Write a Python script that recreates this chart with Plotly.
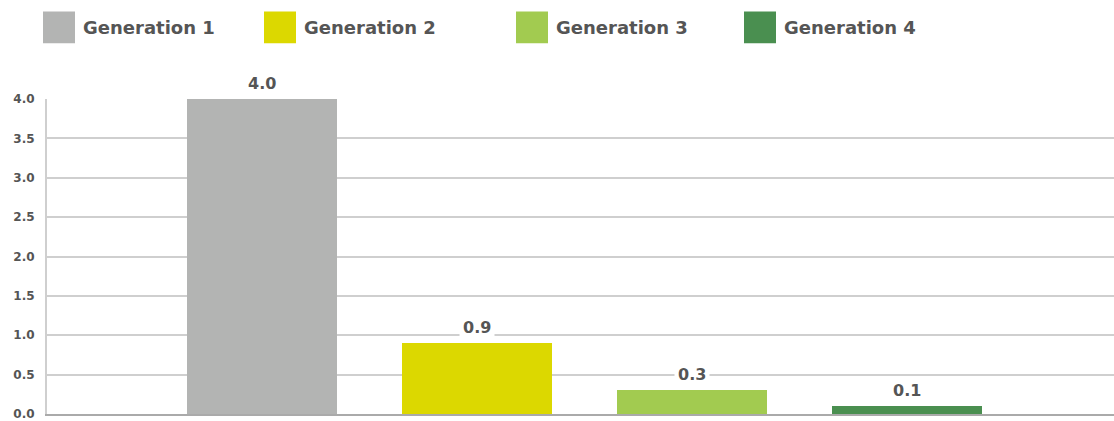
import plotly.graph_objects as go

# Data
generations = ["Generation 1", "Generation 2", "Generation 3", "Generation 4"]
values = [4.0, 0.9, 0.3, 0.1]
colors = ["#b3b4b3", "#dcd800", "#a2cb50", "#4a8f50"]
y_ticks = [0.0, 0.5, 1.0, 1.5, 2.0, 2.5, 3.0, 3.5, 4.0]

TEXT = "#555555"
FONT = "DejaVu Sans"

fig = go.Figure()
fig.add_trace(go.Bar(
    x=generations,
    y=values,
    marker=dict(color=colors, line=dict(width=0)),
    width=0.70,
    showlegend=False,
    hoverinfo="skip",
))

# Value labels above bars, white boxes masking the gridlines
for g, v in zip(generations, values):
    fig.add_annotation(
        x=g, y=v, xref="x", yref="y",
        text=f"{v:.1f}", showarrow=False,
        yshift=16, bgcolor="white", borderpad=3,
        font=dict(family=FONT, size=16, color=TEXT, weight="bold"),
    )

# Custom legend row across the top
legend_x = [43, 264, 516, 744]
W, H = 1114, 421
PW, PH = W - 47, H - 5 - 99
for lx, name, col in zip(legend_x, generations, colors):
    fig.add_shape(
        type="rect", xref="paper", yref="paper",
        x0=(lx - 47) / PW, x1=(lx + 32 - 47) / PW,
        y0=(H - 5 - 43) / PH, y1=(H - 5 - 11) / PH,
        fillcolor=col, line=dict(width=0), layer="above",
    )
    fig.add_annotation(
        xref="paper", yref="paper",
        x=(lx + 38 - 47) / PW, y=(H - 5 - 27) / PH,
        xanchor="left", yanchor="middle",
        text=name, showarrow=False,
        font=dict(family=FONT, size=18, color=TEXT, weight="bold"),
    )

fig.update_layout(
    width=W, height=H,
    margin=dict(l=47, r=0, t=99, b=5),
    plot_bgcolor="white", paper_bgcolor="white",
    bargap=0,
    xaxis=dict(
        type="category", categoryorder="array", categoryarray=generations,
        range=[-1, 3.963], showticklabels=False, showgrid=False,
        zeroline=False, showline=True, linecolor="#aaaaaa", linewidth=2,
        ticks="",
    ),
    yaxis=dict(
        range=[0, 4], tickvals=y_ticks, ticktext=[f"{t:.1f}" for t in y_ticks],
        showgrid=True, gridcolor="#cfcfcf", gridwidth=2,
        zeroline=False, showline=True, linecolor="#cfcfcf", linewidth=2,
        ticks="", ticklabelstandoff=8, ticklabeloverflow="allow",
        tickfont=dict(family=FONT, size=12, color=TEXT, weight="bold"),
    ),
)

fig.write_html("out.html")
